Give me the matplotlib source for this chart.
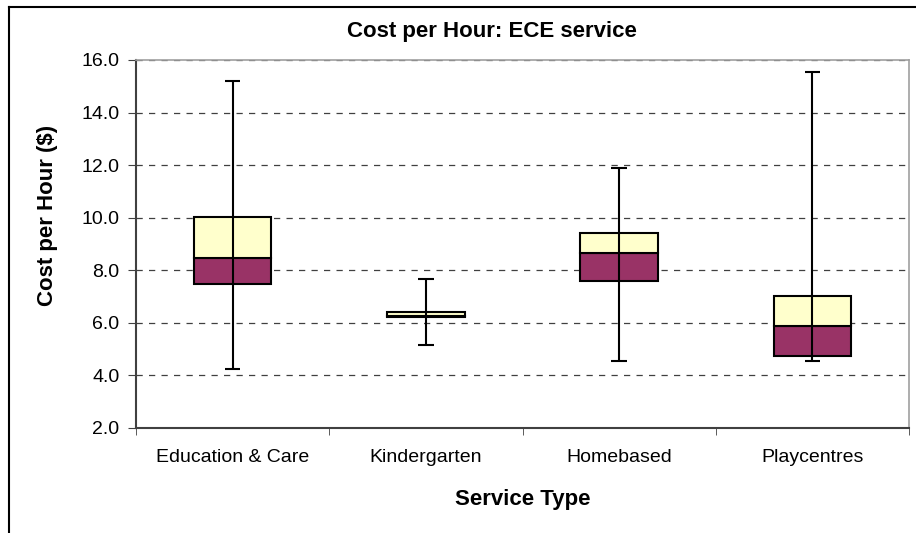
import matplotlib
matplotlib.use("Agg")
import matplotlib.pyplot as plt
from matplotlib.lines import Line2D

plt.rcParams['font.family'] = ['Liberation Sans', 'DejaVu Sans']

categories = ["Education & Care", "Kindergarten", "Homebased", "Playcentres"]
whisker_min = [4.25, 5.16, 4.53, 4.53]
q1 = [7.47, 6.23, 7.61, 4.75]
median = [8.46, 6.25, 8.66, 5.89]
q3 = [10.04, 6.40, 9.40, 7.03]
whisker_max = [15.2, 7.67, 11.9, 15.56]
y_ticks = [2.0, 4.0, 6.0, 8.0, 10.0, 12.0, 14.0, 16.0]

W, H = 916, 533
fig = plt.figure(figsize=(W/100, H/100), dpi=100)
ax = fig.add_axes([136/W, 1 - 428/H, (909-136)/W, (428-60)/H])

x = list(range(len(categories)))
low_h = [m - a for m, a in zip(median, q1)]
up_h = [b - m for b, m in zip(q3, median)]
ax.bar(x, low_h, bottom=q1, width=0.40, color='#993366', edgecolor='black', linewidth=1.5, zorder=3)
ax.bar(x, up_h, bottom=median, width=0.40, color='#FFFFCC', edgecolor='black', linewidth=1.5, zorder=3)
ax.vlines(x, whisker_min, whisker_max, color='black', linewidth=1.5, zorder=4)
ax.hlines(whisker_min, [i - 0.04 for i in x], [i + 0.04 for i in x], color='black', linewidth=1.5, zorder=4)
ax.hlines(whisker_max, [i - 0.04 for i in x], [i + 0.04 for i in x], color='black', linewidth=1.5, zorder=4)

ax.set_xlim(-0.5, 3.5)
ax.set_ylim(2.0, 16.0)
ax.set_yticks(y_ticks)
ax.set_yticklabels([f"{v:.1f}" for v in y_ticks], fontsize=14)
ax.set_xticks(x)
ax.set_xticklabels(categories, fontsize=14)
ax.set_xticks([-0.5, 0.5, 1.5, 2.5, 3.5], minor=True)
ax.tick_params(axis='x', which='major', length=0, pad=15)
ax.tick_params(axis='x', which='minor', length=5, direction='out', color='#404040')
ax.tick_params(axis='y', length=6, direction='out', color='#404040', pad=6)

ax.yaxis.grid(True, linestyle=(0, (5, 5)), color='#404040', linewidth=0.9, zorder=0)
ax.set_axisbelow(True)

for s in ['top', 'right']:
    ax.spines[s].set_color('#A0A0A0')
    ax.spines[s].set_linewidth(1.2)
for s in ['left', 'bottom']:
    ax.spines[s].set_color('#404040')
    ax.spines[s].set_linewidth(1.5)

fig.text(492/W, 1 - 32/H, "Cost per Hour: ECE service", fontsize=16, fontweight='bold',
         ha='center', va='center')
fig.text(523/W, 1 - 500/H, "Service Type", fontsize=16, fontweight='bold',
         ha='center', va='center')
fig.text(48/W, 1 - 215/H, "Cost per Hour ($)", fontsize=16, fontweight='bold',
         ha='center', va='center', rotation=90)

# outer chart frame (top and left)
fig.add_artist(Line2D([9/W, 1.0], [1 - 7/H, 1 - 7/H], color='black', linewidth=1.5, transform=fig.transFigure))
fig.add_artist(Line2D([9/W, 9/W], [0.0, 1 - 7/H], color='black', linewidth=1.5, transform=fig.transFigure))

fig.savefig("out.png", dpi=100)
